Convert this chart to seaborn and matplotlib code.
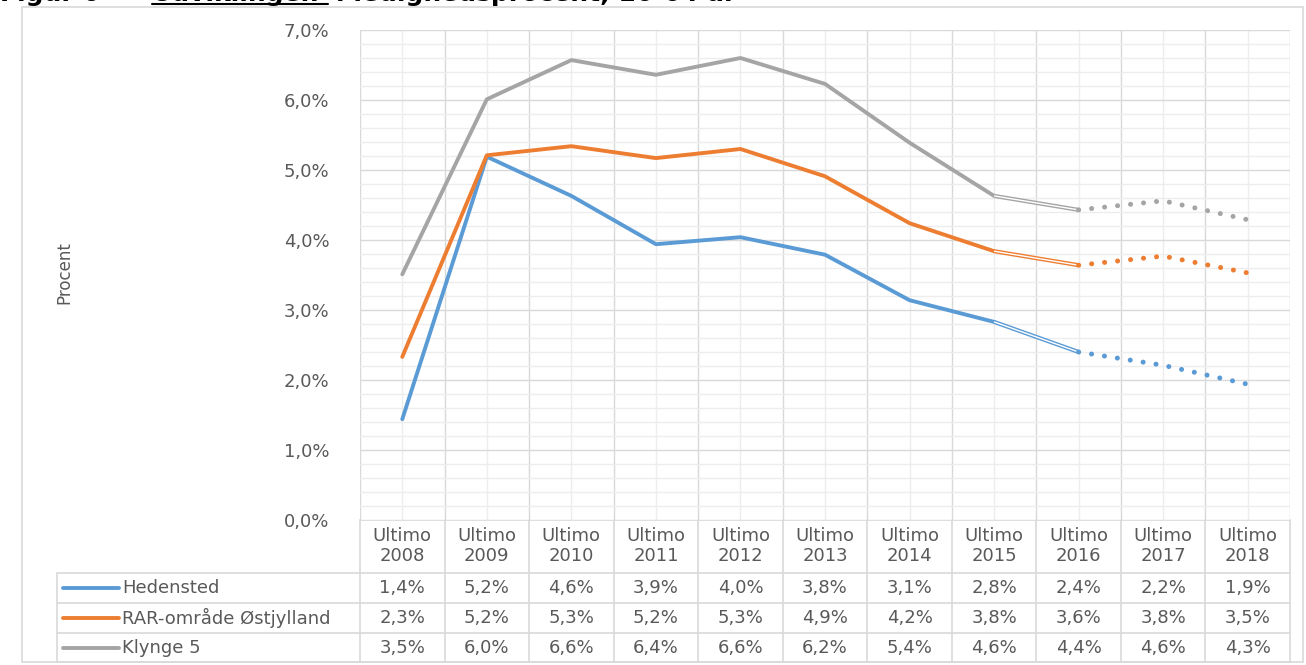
import numpy as np
import pandas as pd
import seaborn as sns
import matplotlib.pyplot as plt
from matplotlib.transforms import blended_transform_factory
from matplotlib.ticker import MultipleLocator, FuncFormatter
from matplotlib.patches import Rectangle

# Data (percent)
years = ["2008", "2009", "2010", "2011", "2012", "2013",
         "2014", "2015", "2016", "2017", "2018"]
hedensted = [1.44, 5.19, 4.63, 3.94, 4.04, 3.79, 3.14, 2.83, 2.40, 2.21, 1.94]
rar_oj = [2.33, 5.21, 5.34, 5.17, 5.30, 4.91, 4.24, 3.84, 3.64, 3.77, 3.53]
klynge5 = [3.51, 6.01, 6.57, 6.36, 6.60, 6.23, 5.39, 4.63, 4.43, 4.56, 4.29]
series_names = ["Hedensted", "RAR-område Østjylland", "Klynge 5"]
colors = ["#5B9BD5", "#ED7D31", "#A5A5A5"]

last_actual = 7   # Ultimo 2015
first_proj = 8    # Ultimo 2016 -> prognose

txt = "#595959"
grid_major = "#D9D9D9"
grid_minor = "#EDEDED"

sns.set_style("white")
plt.rcParams["font.family"] = ["DejaVu Sans"]

df = pd.DataFrame({
    "x": list(range(len(years))) * 3,
    "value": hedensted + rar_oj + klynge5,
    "serie": [s for s in series_names for _ in years],
})

fig = plt.figure(figsize=(13.06, 6.65), dpi=100)
W, H = 1306, 665
ax = fig.add_axes([360 / W, 1 - 520 / H, 930 / W, 490 / H])

# solid part
sns.lineplot(data=df[df.x <= last_actual], x="x", y="value", hue="serie",
             hue_order=series_names, palette=colors, lw=2.8,
             legend=False, ax=ax, zorder=3)
# double line segment 2015-2016 and dotted forecast
for name, col in zip(series_names, colors):
    sub = df[df.serie == name]
    seg = sub[(sub.x >= last_actual) & (sub.x <= first_proj)]
    ax.plot(seg.x, seg.value, color=col, lw=3.0, solid_capstyle="butt", zorder=3)
    ax.plot(seg.x, seg.value, color="white", lw=1.0, solid_capstyle="butt", zorder=3)
    proj = sub[sub.x >= first_proj]
    ax.plot(proj.x, proj.value, color=col, lw=3.6, linestyle=(0, (0.01, 2.6)),
            dash_capstyle="round", zorder=3)

ax.set_xlim(-0.5, len(years) - 0.5)
ax.set_ylim(0, 7)
ax.yaxis.set_major_locator(MultipleLocator(1))
ax.yaxis.set_minor_locator(MultipleLocator(0.2))
ax.yaxis.set_major_formatter(FuncFormatter(lambda v, p: f"{v:.1f}%".replace(".", ",")))
ax.set_xticks(np.arange(-0.5, len(years), 1))
ax.set_xticks(np.arange(0, len(years), 1), minor=True)
ax.set_xticklabels([])
ax.grid(True, which="major", color=grid_major, lw=1.0, zorder=0)
ax.grid(True, which="minor", color=grid_minor, lw=1.0, zorder=0)
ax.tick_params(axis="both", which="both", length=0)
ax.tick_params(axis="y", labelsize=13, labelcolor=txt, pad=22)
for s in ax.spines.values():
    s.set_visible(False)
ax.set_xlabel("")
ax.set_ylabel("")

# overlay in pixel coordinates for data table, frame and labels
ov = fig.add_axes([0, 0, 1, 1], zorder=-1)
ov.set_xlim(0, W)
ov.set_ylim(H, 0)
ov.axis("off")
bt = blended_transform_factory(ax.transData, ov.transData)

ov.add_patch(Rectangle((22, 7), 1281, 655, fill=False, ec=grid_major, lw=1.2))

row_lines = [520, 573, 603, 633, 662]
for i, y in enumerate(row_lines):
    x0 = 360 if i == 0 else 57
    ov.plot([x0, 1290], [y, y], color=grid_major, lw=1.2)
ov.plot([57, 57], [573, 662], color=grid_major, lw=1.2)
for b in np.arange(-0.5, len(years), 1):
    ov.plot([b, b], [520, 662], color=grid_major, lw=1.2, transform=bt)

for i, yr in enumerate(years):
    ov.text(i, 546, f"Ultimo\n{yr}", ha="center", va="center", fontsize=13,
            color=txt, linespacing=1.15, transform=bt)

row_centers = [588, 618, 648]
for name, col, vals, yc in zip(series_names, colors, [hedensted, rar_oj, klynge5], row_centers):
    ov.plot([63, 119], [yc, yc], color=col, lw=2.8, solid_capstyle="round")
    ov.text(122, yc, name, ha="left", va="center", fontsize=13, color=txt)
    for i, v in enumerate(vals):
        ov.text(i, yc, f"{v:.1f}%".replace(".", ","), ha="center", va="center",
                fontsize=13, color=txt, transform=bt)

ov.text(64, 273, "Procent", rotation=90, ha="center", va="center",
        fontsize=12, color=txt)

# clipped title at the very top (only its lower edge is visible)
ov.text(0, 1, "Figur 6 –", ha="left", va="baseline", fontsize=18,
        fontweight="bold", color="black")
ov.text(152, 1, "Udviklingen", ha="left", va="baseline", fontsize=18,
        fontweight="bold", color="black")
ov.plot([152, 328], [4.2, 4.2], color="black", lw=1.5)
ov.text(336, 1, "i ledighedsprocent, 16-64 år", ha="left", va="baseline",
        fontsize=18, fontweight="bold", color="black")

fig.savefig("out.png", dpi=100)
